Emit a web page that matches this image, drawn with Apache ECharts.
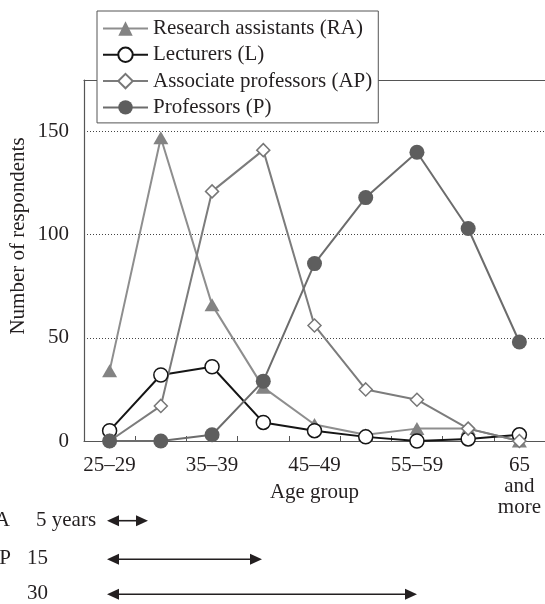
<!DOCTYPE html>
<html>
<head>
<meta charset="utf-8">
<script src="https://cdn.jsdelivr.net/npm/echarts@6/dist/echarts.min.js"></script>
<style>html,body{margin:0;padding:0;background:#fff;}#main{width:545px;height:604px;}</style>
</head>
<body>
<div id="main"></div>
<script>
const ageGroups = ["25–29","30–34","35–39","40–44","45–49","50–54","55–59","60–64","65 and more"];
const researchAssistants = [34, 147, 66, 26, 8, 3, 6, 6, 0];
const lecturers = [5, 32, 36, 9, 5, 2, 0, 1, 3];
const associateProfessors = [0, 17, 121, 141, 56, 25, 20, 6, 0];
const professors = [0, 0, 3, 29, 86, 118, 140, 103, 48];
const yTicks = {min: 0, max: 175, interval: 50};

const FONT = "Liberation Serif";
const TXT = "#231f20";

const chart = echarts.init(document.getElementById('main'), null, {renderer: 'canvas'});

function arrow(y, x1, x2) {
  const hl = 12, hh = 5.5;
  return [
    {type: 'line', shape: {x1: x1 + hl - 1, y1: y, x2: x2 - hl + 1, y2: y}, style: {stroke: TXT, lineWidth: 1.6}},
    {type: 'polygon', shape: {points: [[x1, y], [x1 + hl, y - hh], [x1 + hl, y + hh]]}, style: {fill: TXT}},
    {type: 'polygon', shape: {points: [[x2, y], [x2 - hl, y - hh], [x2 - hl, y + hh]]}, style: {fill: TXT}}
  ];
}
function txt(x, y, s, align) {
  return {type: 'text', x: x, y: y, style: {text: s, font: '21px "' + FONT + '"', fill: TXT, align: align || 'left', verticalAlign: 'middle'}};
}

const option = {
  backgroundColor: '#fff',
  animation: false,
  textStyle: {fontFamily: FONT, color: TXT},
  grid: {left: 84, right: 0, top: 80, bottom: 163},
  legend: {
    data: ['Research assistants (RA)', 'Lecturers (L)', 'Associate professors (AP)', 'Professors (P)'],
    orient: 'vertical', left: 97, top: 11,
    padding: [7, 6, 5, 5], itemGap: 5.3, itemWidth: 45, itemHeight: 18,
    backgroundColor: '#fff', borderColor: '#555', borderWidth: 1,
    selectedMode: false, z: 10,
    textStyle: {fontFamily: FONT, fontSize: 21, lineHeight: 21, color: TXT}
  },
  xAxis: [{
    type: 'category', data: ageGroups, boundaryGap: true,
    name: 'Age group', nameLocation: 'middle', nameGap: 41, nameMoveOverlap: false,
    nameTextStyle: {fontFamily: FONT, fontSize: 21, color: TXT},
    axisLine: {lineStyle: {color: '#555', width: 1.2}},
    axisTick: {show: true, inside: true, length: 5, interval: 0, lineStyle: {color: '#555'}},
    axisLabel: {interval: 1, margin: 14, fontFamily: FONT, fontSize: 21, lineHeight: 21, color: TXT,
      formatter: v => v.replace(/ /g, '\n')},
    splitLine: {show: false}
  }, {
    type: 'category', data: ageGroups, position: 'top',
    axisLine: {show: true, lineStyle: {color: '#555', width: 1.2}},
    axisTick: {show: false}, axisLabel: {show: false}, splitLine: {show: false}
  }],
  yAxis: {
    type: 'value', min: yTicks.min, max: yTicks.max, interval: yTicks.interval,
    axisLine: {show: true, lineStyle: {color: '#555', width: 1.2}},
    axisTick: {show: false},
    axisLabel: {margin: 15, fontFamily: FONT, fontSize: 21, color: TXT, showMaxLabel: false},
    splitLine: {show: true, showMinLine: false, showMaxLine: false, lineStyle: {color: '#444', width: 1, type: [1, 2]}}
  },
  series: [
    {name: 'Research assistants (RA)', type: 'line', data: researchAssistants,
      symbol: 'triangle', symbolSize: [15, 13],
      lineStyle: {color: '#8e8e8e', width: 2},
      itemStyle: {color: '#838383', borderWidth: 0}},
    {name: 'Lecturers (L)', type: 'line', data: lecturers,
      symbol: 'circle', symbolSize: 14,
      lineStyle: {color: '#151515', width: 2},
      itemStyle: {color: '#fff', borderColor: '#151515', borderWidth: 1.5}},
    {name: 'Associate professors (AP)', type: 'line', data: associateProfessors,
      symbol: 'diamond', symbolSize: 13,
      lineStyle: {color: '#7c7c7c', width: 2},
      itemStyle: {color: '#fff', borderColor: '#777', borderWidth: 1.5}},
    {name: 'Professors (P)', type: 'line', data: professors,
      symbol: 'circle', symbolSize: 15,
      lineStyle: {color: '#6c6c6c', width: 2},
      itemStyle: {color: '#5e5e5e', borderWidth: 0}}
  ],
  graphic: [
    {type: 'text', x: 18, y: 236, rotation: Math.PI / 2,
      style: {text: 'Number of respondents', font: '21px "' + FONT + '"', fill: TXT, align: 'center', verticalAlign: 'middle'}},
    txt(10, 520, 'RA', 'right'), txt(36, 520, '5 years'),
    txt(11, 558.5, 'AP', 'right'), txt(27, 558.5, '15'),
    txt(27, 593.5, '30')
  ].concat(arrow(520.7, 107, 148), arrow(559.3, 107, 262), arrow(594.3, 107, 417))
};
chart.setOption(option);
</script>
</body>
</html>
